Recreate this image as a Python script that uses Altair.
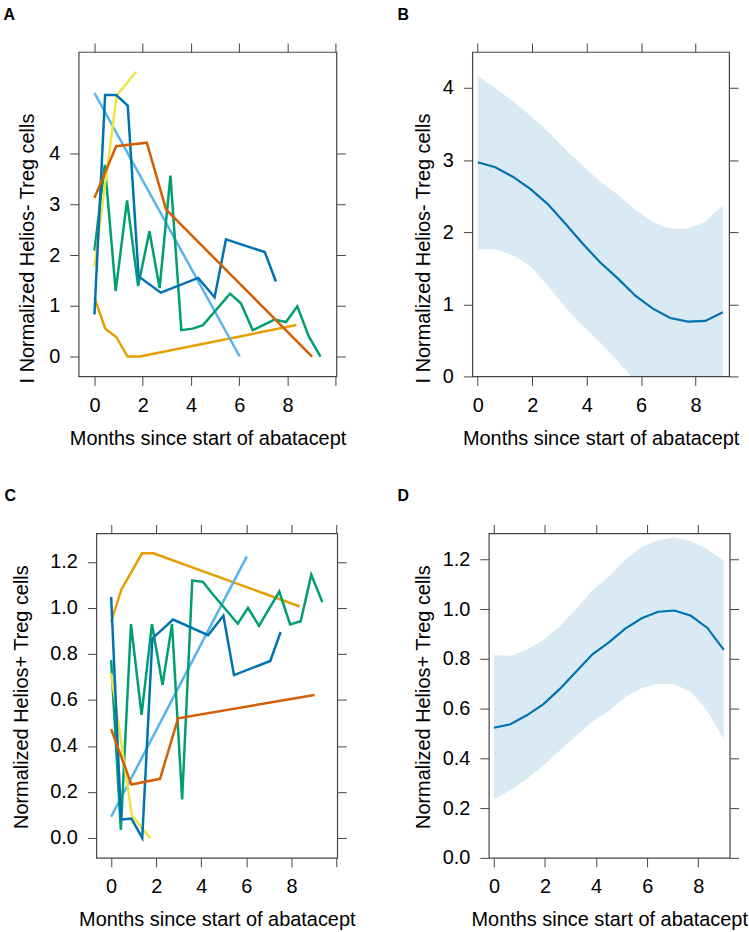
import altair as alt
import pandas as pd

# ---------------- data ----------------
patients = ["P1", "P2", "P3", "P4", "P5", "P6"]
patient_colors = ["#E69F00", "#56B4E9", "#009E73", "#F0E442", "#0072B2", "#D55E00"]

# orange
months_p1 = [0, 0.45, 0.91, 1.37, 1.88, 8.37]
neg_p1 = [1.16, 0.55, 0.38, 0.0, 0.0, 0.62]
pos_p1 = [0.939, 1.079, 1.157, 1.237, 1.237, 1.006]
# sky blue
months_p2 = [0, 6.02]
neg_p2 = [5.2, 0.0]
pos_p2 = [0.092, 1.224]
# green
months_p3 = [0, 0.43, 0.88, 1.35, 1.81, 2.28, 2.7, 3.15, 3.6, 4.07, 4.5,
             5.62, 6.07, 6.56, 7.46, 7.94, 8.41, 8.88, 9.37]
neg_p3 = [2.09, 3.78, 1.29, 3.08, 1.39, 2.47, 1.35, 3.57, 0.52, 0.55, 0.62,
          1.24, 1.05, 0.52, 0.73, 0.68, 0.99, 0.40, 0.0]
pos_p3 = [0.773, 0.035, 0.929, 0.535, 0.929, 0.665, 0.929, 0.167, 1.119, 1.113, 1.06,
          0.931, 1.0, 0.922, 1.071, 0.928, 0.942, 1.144, 1.025]
# yellow
months_p4 = [0, 0.92, 1.73]
neg_p4 = [1.78, 5.15, 5.62]
pos_p4 = [0.715, 0.098, 0.0]
# blue
months_p5 = [0, 0.44, 0.9, 1.38, 1.83, 2.75, 4.3, 4.98, 5.45, 7.06, 7.52]
neg_p5 = [0.83, 5.16, 5.16, 4.95, 1.58, 1.26, 1.55, 1.17, 2.31, 2.06, 1.48]
pos_p5 = [1.047, 0.08, 0.084, 0.0, 0.867, 0.949, 0.881, 0.966, 0.708, 0.769, 0.895]
# vermillion
months_p6 = [0, 0.9, 2.17, 2.97, 9.02]
neg_p6 = [3.13, 4.15, 4.22, 2.9, 0.0]
pos_p6 = [0.473, 0.232, 0.257, 0.52, 0.621]

# fitted curves with confidence bands
fit_months = [0, 0.643, 1.286, 1.929, 2.571, 3.214, 3.857, 4.5, 5.143, 5.786,
              6.429, 7.071, 7.714, 8.357, 9.0]
neg_fit = [2.97, 2.90, 2.77, 2.60, 2.39, 2.12, 1.84, 1.58, 1.36, 1.12,
           0.94, 0.81, 0.76, 0.77, 0.89]
neg_upper = [4.17, 4.00, 3.82, 3.62, 3.40, 3.15, 2.92, 2.70, 2.52, 2.31,
             2.14, 2.05, 2.05, 2.14, 2.38]
neg_lower = [1.76, 1.76, 1.68, 1.53, 1.26, 0.96, 0.70, 0.47, 0.21, -0.06,
             -0.28, -0.44, -0.54, -0.58, -0.60]
pos_fit = [0.523, 0.537, 0.573, 0.617, 0.678, 0.748, 0.818, 0.866, 0.921, 0.963,
           0.989, 0.994, 0.973, 0.924, 0.836]
pos_upper = [0.815, 0.812, 0.836, 0.876, 0.93, 1.0, 1.075, 1.13, 1.20, 1.25,
             1.277, 1.287, 1.272, 1.24, 1.194]
pos_lower = [0.236, 0.271, 0.317, 0.371, 0.43, 0.49, 0.547, 0.59, 0.645, 0.683,
             0.70, 0.698, 0.667, 0.59, 0.477]

x_ticks_wide = [0, 2, 4, 6, 8, 10]
x_ticks_fit = [0, 2, 4, 6, 8]
neg_ticks = [0, 1, 2, 3, 4]
pos_ticks = [0, 0.2, 0.4, 0.6, 0.8, 1.0, 1.2]

X_TITLE = "Months since start of abatacept"
NEG_TITLE = "I Normalized Helios- Treg cells"
POS_TITLE = "Normalized Helios+ Treg cells"

# ---------------- tables ----------------
rows = []
for pid, ms, ng, ps in zip(
    patients,
    [months_p1, months_p2, months_p3, months_p4, months_p5, months_p6],
    [neg_p1, neg_p2, neg_p3, neg_p4, neg_p5, neg_p6],
    [pos_p1, pos_p2, pos_p3, pos_p4, pos_p5, pos_p6],
):
    for i, (m, a, b) in enumerate(zip(ms, ng, ps)):
        rows.append({"patient": pid, "month": m, "neg": a, "pos": b, "idx": i})
spag = pd.DataFrame(rows)

fit_df = pd.DataFrame({
    "month": fit_months,
    "neg_fit": neg_fit, "neg_lo": neg_lower, "neg_hi": neg_upper,
    "pos_fit": pos_fit, "pos_lo": pos_lower, "pos_hi": pos_upper,
})

FONT = "Liberation Sans"
AX = "#444444"


def axis(orient, values, labels=True, **kw):
    opts = dict(
        orient=orient, values=values, labels=labels, domain=False, grid=False,
        ticks=True, tickSize=9, tickColor=AX, tickWidth=1,
        labelFontSize=20, labelFont=FONT, labelColor="black", labelPadding=10,
        labelFlush=False, labelOverlap=False,
        titleFont=FONT, titleFontSize=20, titleFontWeight="normal",
        titleColor="black", titlePadding=13)
    opts.update(kw)
    return alt.Axis(**opts)


def letter_axis(values, let, ldx):
    # top axis: ticks only, carrying the panel letter as its title
    return axis("top", values, labels=False, title=let, titleX=ldx, titleY=-33,
                titleAngle=0, titleAlign="left", titleBaseline="alphabetic",
                titleFontSize=16, titleFontWeight="bold")


def spaghetti(field, ydomain, yvals, yfmt, ytitle, tx, ty, let, ldx, width):
    xs = alt.Scale(domain=[-0.656, 10.03], nice=False, zero=False)
    ys = alt.Scale(domain=ydomain, nice=False, zero=False)
    base = alt.Chart(spag)
    main = base.mark_line(strokeWidth=2.5).encode(
        x=alt.X("month:Q", scale=xs,
                axis=axis("bottom", x_ticks_wide, title=X_TITLE, format="d",
                          labelExpr="datum.value > 9 ? '' : datum.label")),
        y=alt.Y(f"{field}:Q", scale=ys,
                axis=axis("left", yvals, title=ytitle, format=yfmt,
                          titleX=tx, titleY=ty, titleAngle=270,
                          titleBaseline="alphabetic", titleAlign="center")),
        color=alt.Color("patient:N", scale=alt.Scale(domain=patients, range=patient_colors),
                        legend=None),
        order="idx:Q",
    )
    frame = base.mark_line(opacity=0).encode(
        x=alt.X("month:Q", scale=xs, axis=letter_axis(x_ticks_wide, let, ldx)),
        y=alt.Y(f"{field}:Q", scale=ys, axis=axis("right", yvals, labels=False, title=None)),
        detail="patient:N",
    )
    return alt.layer(main, frame).properties(width=width, height=326)


def fitted(prefix, ydomain, yvals, yfmt, ytitle, tx, ty, let, ldx, width):
    xs = alt.Scale(domain=[-0.2, 9.23], nice=False, zero=False)
    ys = alt.Scale(domain=ydomain, nice=False, zero=False)
    base = alt.Chart(fit_df)
    band = base.mark_area(color="#0072B2", opacity=0.15, clip=True).encode(
        x=alt.X("month:Q", scale=xs,
                axis=axis("bottom", x_ticks_fit, title=X_TITLE, format="d")),
        y=alt.Y(f"{prefix}_lo:Q", scale=ys,
                axis=axis("left", yvals, title=ytitle, format=yfmt,
                          titleX=tx, titleY=ty, titleAngle=270,
                          titleBaseline="alphabetic", titleAlign="center")),
        y2=f"{prefix}_hi:Q",
    )
    line = base.mark_line(color="#0072B2", strokeWidth=2.2).encode(
        x=alt.X("month:Q", scale=xs, axis=None),
        y=alt.Y(f"{prefix}_fit:Q", scale=ys, axis=None),
    )
    frame = base.mark_line(opacity=0).encode(
        x=alt.X("month:Q", scale=xs, axis=letter_axis(x_ticks_fit, let, ldx)),
        y=alt.Y(f"{prefix}_fit:Q", scale=ys, axis=axis("right", yvals, labels=False, title=None)),
    )
    return alt.layer(band, line, frame).properties(width=width, height=326)


def spacer(width):
    # invisible layout spacer (sits outside the visible canvas)
    return (
        alt.Chart(pd.DataFrame({"s": [0]}))
        .mark_rect(opacity=0)
        .encode(x=alt.value(0), x2=alt.value(1), y=alt.value(0), y2=alt.value(1))
        .properties(width=width, height=1, view=alt.ViewBackground(strokeOpacity=0))
    )


panel_a = spaghetti("neg", [-0.393, 6.01], neg_ticks, "d", NEG_TITLE, -45, 197, "A", -76, 259)
panel_c = spaghetti("pos", [-0.0866, 1.3236], pos_ticks, ".1f", POS_TITLE, -68.7, 164, "C", -92.7, 242)
panel_b = fitted("neg", [0, 4.5], neg_ticks, "d", NEG_TITLE, -43, 197, "B", -75.7, 258)
panel_d = fitted("pos", [0, 1.304], pos_ticks, ".1f", POS_TITLE, -59.6, 164, "D", -92.3, 242)

row_top = alt.hconcat(spacer(1), panel_a, panel_b, spacing=48.5)
row_bottom = alt.hconcat(spacer(9.2), panel_c, panel_d, spacing=40.3)

chart = (
    alt.concat(row_top, row_bottom, columns=1, align="none", spacing=37.7)
    .properties(padding={"left": -47.5, "top": 3, "right": 0, "bottom": 0},
                background="white")
    .configure_view(stroke=AX, strokeWidth=1.2)
)

chart.save("out.html", embed_options={"renderer": "svg", "actions": False})
